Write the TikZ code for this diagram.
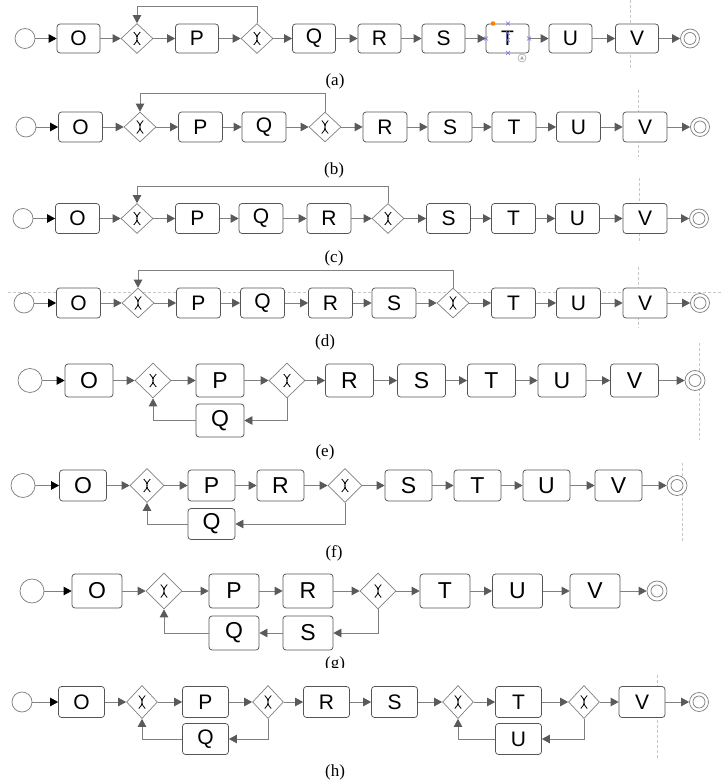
\documentclass[tikz,border=0pt]{standalone}
\usepackage{fontspec}
\setmainfont{Liberation Serif}
\newfontfamily\sansf{Liberation Sans}
\usetikzlibrary{shapes.geometric,arrows.meta}
\definecolor{edgegray}{HTML}{808080}
\definecolor{boxgray}{HTML}{555555}
\definecolor{tipgray}{HTML}{5A5A5A}
\definecolor{dashgray}{HTML}{C8C8C8}
\definecolor{selblue}{HTML}{6A6AF0}
\definecolor{selorange}{HTML}{FF7F00}
\def\gs{1}
\tikzset{
  task/.style={draw=boxgray, line width=0.75pt, fill=white, rounded corners=3pt, inner sep=0pt,
    minimum width=43pt, minimum height=29pt, font={\sansf\fontsize{21pt}{21pt}\selectfont}},
  gate/.style={diamond, draw=edgegray, line width=0.7pt, fill=white, inner sep=0pt,
    minimum width=32pt, minimum height=30pt,
    path picture={\draw[black, line width=0.8pt, shift={(path picture bounding box.center)}, scale=\gs]
      (-3.2,-6.5) .. controls (1.3,-2.2) and (1.3,2.2) .. (-3.2,6.5)
      (3.2,-6.5) .. controls (-1.3,-2.2) and (-1.3,2.2) .. (3.2,6.5);}},
  startev/.style={circle, draw=edgegray, line width=0.75pt, fill=white, inner sep=0pt, minimum size=20pt},
  endev/.style={circle, draw=edgegray, line width=0.75pt, fill=white, inner sep=0pt, minimum size=19pt,
    path picture={\draw[edgegray, line width=0.75pt] (path picture bounding box.center) circle (6pt);}},
  flow/.style={draw=edgegray, line width=0.75pt, -{Triangle[length=8pt, width=8.5pt, color=tipgray]}},
  firstflow/.style={draw=edgegray, line width=0.75pt, -{Triangle[length=8pt, width=8.5pt, color=black]}},
  guide/.style={draw=dashgray, line width=0.6pt, dash pattern=on 3pt off 2pt},
  caption/.style={font={\fontsize{17pt}{17pt}\selectfont}, inner sep=0pt},
  selx/.style={draw=selblue, line width=0.6pt}
}
\begin{document}
\begin{tikzpicture}[x=1pt, y=-1pt]
\useasboundingbox (0,0) rectangle (721,784);

% ---------------- (a)
\draw[guide] (630,0) -- (630,68);
\node[startev] (as) at (25,38.5) {};
\node[task] (aO) at (78.5,38.5) {O};
\node[gate] (ag1) at (137,38.5) {};
\node[task] (aP) at (197,38.5) {P};
\node[gate] (ag2) at (257,38.5) {};
\node[task] (aQ) at (314,38.5) {Q};
\node[task] (aR) at (379.5,38.5) {R};
\node[task] (aS) at (443.5,38.5) {S};
\node[task] (aT) at (507.5,38.5) {T};
\node[task] (aU) at (570.5,38.5) {U};
\node[task] (aV) at (637,38.5) {V};
\node[endev] (ae) at (690,38.5) {};
\draw[firstflow] (as) -- (aO);
\foreach \u/\v in {aO/ag1, ag1/aP, aP/ag2, ag2/aQ, aQ/aR, aR/aS, aS/aT, aT/aU, aU/aV, aV/ae}
  \draw[flow] (\u) -- (\v);
\draw[flow] (ag2.north) -- (ag2.north |- 0,6) -| (ag1.north);
% selection handles on T
\fill[selorange] (493,23.5) circle (2.3pt);
\foreach \p in {(508,23.5),(486,38.5),(529,38.5),(508,53),(508,33),(508,40)}
  \draw[selx] \p ++(-2,-2) -- ++(4,4) \p ++(-2,2) -- ++(4,-4);
\draw[draw=gray!70, line width=0.6pt, fill=white] (522,58) circle (4pt);
\fill[gray!70] (520,59.5) -- (524,59.5) -- (522,56) -- cycle;
\node[caption] (la) at (335,81) {(a)};

% ---------------- (b)
\draw[guide] (638,90) -- (638,157);
\node[startev] (bs) at (26,127) {};
\node[task, minimum width=44pt, minimum height=30pt] (bO) at (80.5,127) {O};
\node[gate] (bg1) at (140,127) {};
\node[task, minimum width=44pt, minimum height=30pt] (bP) at (200.5,127) {P};
\node[task, minimum width=44pt, minimum height=30pt] (bQ) at (264,127) {Q};
\node[gate] (bg2) at (325,127) {};
\node[task, minimum width=44pt, minimum height=30pt] (bR) at (385,127) {R};
\node[task, minimum width=44pt, minimum height=30pt] (bS) at (450,127) {S};
\node[task, minimum width=44pt, minimum height=30pt] (bT) at (514,127) {T};
\node[task, minimum width=44pt, minimum height=30pt] (bU) at (578.5,127) {U};
\node[task, minimum width=44pt, minimum height=30pt] (bV) at (645,127) {V};
\node[endev] (be) at (700,127) {};
\draw[firstflow] (bs) -- (bO);
\foreach \u/\v in {bO/bg1, bg1/bP, bP/bQ, bQ/bg2, bg2/bR, bR/bS, bS/bT, bT/bU, bU/bV, bV/be}
  \draw[flow] (\u) -- (\v);
\draw[flow] (bg2.north) -- (bg2.north |- 0,93) -| (bg1.north);
\node[caption] (lb) at (334,170) {(b)};

% ---------------- (c)
\draw[guide] (639,178) -- (639,243);
\node[startev] (cs) at (23,218.5) {};
\node[task, minimum width=44pt, minimum height=30pt] (cO) at (77.5,218.5) {O};
\node[gate] (cg1) at (137,218.5) {};
\node[task, minimum width=44pt, minimum height=30pt] (cP) at (197.5,218.5) {P};
\node[task, minimum width=44pt, minimum height=30pt] (cQ) at (261,218.5) {Q};
\node[task, minimum width=44pt, minimum height=30pt] (cR) at (329,218.5) {R};
\node[gate] (cg2) at (388,218.5) {};
\node[task, minimum width=44pt, minimum height=30pt] (cS) at (448.5,218.5) {S};
\node[task, minimum width=44pt, minimum height=30pt] (cT) at (513.5,218.5) {T};
\node[task, minimum width=44pt, minimum height=30pt] (cU) at (577.5,218.5) {U};
\node[task, minimum width=44pt, minimum height=30pt] (cV) at (645,218.5) {V};
\node[endev] (ce) at (699,218.5) {};
\draw[firstflow] (cs) -- (cO);
\foreach \u/\v in {cO/cg1, cg1/cP, cP/cQ, cQ/cR, cR/cg2, cg2/cS, cS/cT, cT/cU, cU/cV, cV/ce}
  \draw[flow] (\u) -- (\v);
\draw[flow] (cg2.north) -- (cg2.north |- 0,186) -| (cg1.north);
\node[caption] (lc) at (334,258) {(c)};

% ---------------- (d)
\draw[guide] (8,292) -- (721,292);
\draw[guide] (638,267) -- (638,328);
\node[startev] (ds) at (24,303) {};
\node[task, minimum width=44pt, minimum height=30pt] (dO) at (78.5,303) {O};
\node[gate] (dg1) at (138,303) {};
\node[task, minimum width=44pt, minimum height=30pt] (dP) at (198.5,303) {P};
\node[task, minimum width=44pt, minimum height=30pt] (dQ) at (262.5,303) {Q};
\node[task, minimum width=44pt, minimum height=30pt] (dR) at (330.5,303) {R};
\node[task, minimum width=44pt, minimum height=30pt] (dS) at (394,303) {S};
\node[gate] (dg2) at (453,303) {};
\node[task, minimum width=44pt, minimum height=30pt] (dT) at (513.5,303) {T};
\node[task, minimum width=44pt, minimum height=30pt] (dU) at (578.5,303) {U};
\node[task, minimum width=44pt, minimum height=30pt] (dV) at (645,303) {V};
\node[endev] (de) at (700,303) {};
\draw[firstflow] (ds) -- (dO);
\foreach \u/\v in {dO/dg1, dg1/dP, dP/dQ, dQ/dR, dR/dS, dS/dg2, dg2/dT, dT/dU, dU/dV, dV/de}
  \draw[flow] (\u) -- (\v);
\draw[flow] (dg2.north) -- (dg2.north |- 0,270) -| (dg1.north);
\node[caption] (ld) at (325,342) {(d)};

% ---------------- (e)
\begin{scope}[task/.append style={minimum width=48pt, minimum height=33pt, font={\sansf\fontsize{23pt}{23pt}\selectfont}},
  gate/.append style={minimum width=36pt, minimum height=35pt},
  startev/.append style={minimum size=24pt}]
\def\gs{1.1}
\draw[guide] (699,343) -- (699,440);
\node[startev] (es) at (30,380.5) {};
\node[task] (eO) at (89,380.5) {O};
\node[gate] (eg1) at (153,380.5) {};
\node[task] (eP) at (220,380.5) {P};
\node[gate] (eg2) at (287,380.5) {};
\node[task] (eR) at (349.5,380.5) {R};
\node[task] (eS) at (421.5,380.5) {S};
\node[task] (eT) at (491.5,380.5) {T};
\node[task] (eU) at (562,380.5) {U};
\node[task] (eV) at (634.5,380.5) {V};
\node[endev, minimum size=20pt] (ee) at (695,380.5) {};
\node[task] (eQ) at (220,420.5) {Q};
\draw[firstflow] (es) -- (eO);
\foreach \u/\v in {eO/eg1, eg1/eP, eP/eg2, eg2/eR, eR/eS, eS/eT, eT/eU, eU/eV, eV/ee}
  \draw[flow] (\u) -- (\v);
\draw[flow] (eg2.south) |- (eQ.east);
\draw[flow] (eQ.west) -| (eg1.south);
\end{scope}
\node[caption] (le) at (325,452) {(e)};

% ---------------- (f)
\begin{scope}[task/.append style={minimum width=47pt, minimum height=31pt, font={\sansf\fontsize{23pt}{23pt}\selectfont}},
  gate/.append style={minimum width=34pt, minimum height=34pt},
  startev/.append style={minimum size=24pt}]
\def\gs{1.05}
\draw[guide] (682,463) -- (682,542);
\node[startev] (fs) at (23,485.5) {};
\node[task] (fO) at (83,485.5) {O};
\node[gate] (fg1) at (147,485.5) {};
\node[task] (fP) at (211.5,485.5) {P};
\node[task] (fR) at (280.5,485.5) {R};
\node[gate] (fg2) at (345,485.5) {};
\node[task] (fS) at (408.5,485.5) {S};
\node[task] (fT) at (477.5,485.5) {T};
\node[task] (fU) at (546.5,485.5) {U};
\node[task] (fV) at (618.5,485.5) {V};
\node[endev, minimum size=20pt] (fe) at (677,485.5) {};
\node[task] (fQ) at (211.5,524) {Q};
\draw[firstflow] (fs) -- (fO);
\foreach \u/\v in {fO/fg1, fg1/fP, fP/fR, fR/fg2, fg2/fS, fS/fT, fT/fU, fU/fV, fV/fe}
  \draw[flow] (\u) -- (\v);
\draw[flow] (fg2.south) |- (fQ.east);
\draw[flow] (fQ.west) -| (fg1.south);
\end{scope}
\node[caption] (lf) at (334,553) {(f)};

% ---------------- (g)
\begin{scope}[task/.append style={minimum width=50pt, minimum height=34pt, font={\sansf\fontsize{23pt}{23pt}\selectfont}},
  gate/.append style={minimum width=36pt, minimum height=36pt},
  startev/.append style={minimum size=24pt}]
\def\gs{1.1}
\node[startev] (gs) at (32,591) {};
\node[task] (gO) at (97,591) {O};
\node[gate] (gg1) at (164,591) {};
\node[task] (gP) at (234,591) {P};
\node[task] (gR) at (308,591) {R};
\node[gate] (gg2) at (378,591) {};
\node[task] (gT) at (445,591) {T};
\node[task] (gU) at (517.5,591) {U};
\node[task] (gV) at (595,591) {V};
\node[endev, minimum size=20pt] (ge) at (657,591) {};
\node[task] (gQ) at (234,633) {Q};
\node[task] (gS) at (308,633) {S};
\draw[firstflow] (gs) -- (gO);
\foreach \u/\v in {gO/gg1, gg1/gP, gP/gR, gR/gg2, gg2/gT, gT/gU, gU/gV, gV/ge}
  \draw[flow] (\u) -- (\v);
\draw[flow] (gg2.south) |- (gS.east);
\draw[flow] (gS.west) -- (gQ.east);
\draw[flow] (gQ.west) -| (gg1.south);
\end{scope}
\begin{scope}
\clip (0,640) rectangle (721,667);
\node[caption] (lg) at (335,664) {(g)};
\end{scope}

% ---------------- (h)
\begin{scope}[task/.append style={minimum width=46pt, minimum height=31pt},
  gate/.append style={minimum width=31pt, minimum height=33pt}]
\draw[guide] (657,675) -- (657,758);
\node[startev] (hs) at (22,702) {};
\node[task] (hO) at (81.5,702) {O};
\node[gate] (hg1) at (142,702) {};
\node[task] (hP) at (205.5,702) {P};
\node[gate] (hg2) at (268,702) {};
\node[task] (hR) at (326.5,702) {R};
\node[task] (hS) at (394.5,702) {S};
\node[gate] (hg3) at (458,702) {};
\node[task] (hT) at (518.5,702) {T};
\node[gate] (hg4) at (584,702) {};
\node[task] (hV) at (642,702) {V};
\node[endev] (he) at (699,702) {};
\node[task] (hQ) at (205.5,739) {Q};
\node[task] (hU) at (518.5,739) {U};
\draw[firstflow] (hs) -- (hO);
\foreach \u/\v in {hO/hg1, hg1/hP, hP/hg2, hg2/hR, hR/hS, hS/hg3, hg3/hT, hT/hg4, hg4/hV, hV/he}
  \draw[flow] (\u) -- (\v);
\draw[flow] (hg2.south) |- (hQ.east);
\draw[flow] (hQ.west) -| (hg1.south);
\draw[flow] (hg4.south) |- (hU.east);
\draw[flow] (hU.west) -| (hg3.south);
\end{scope}
\node[caption] (lh) at (335,772) {(h)};
\end{tikzpicture}
\end{document}
